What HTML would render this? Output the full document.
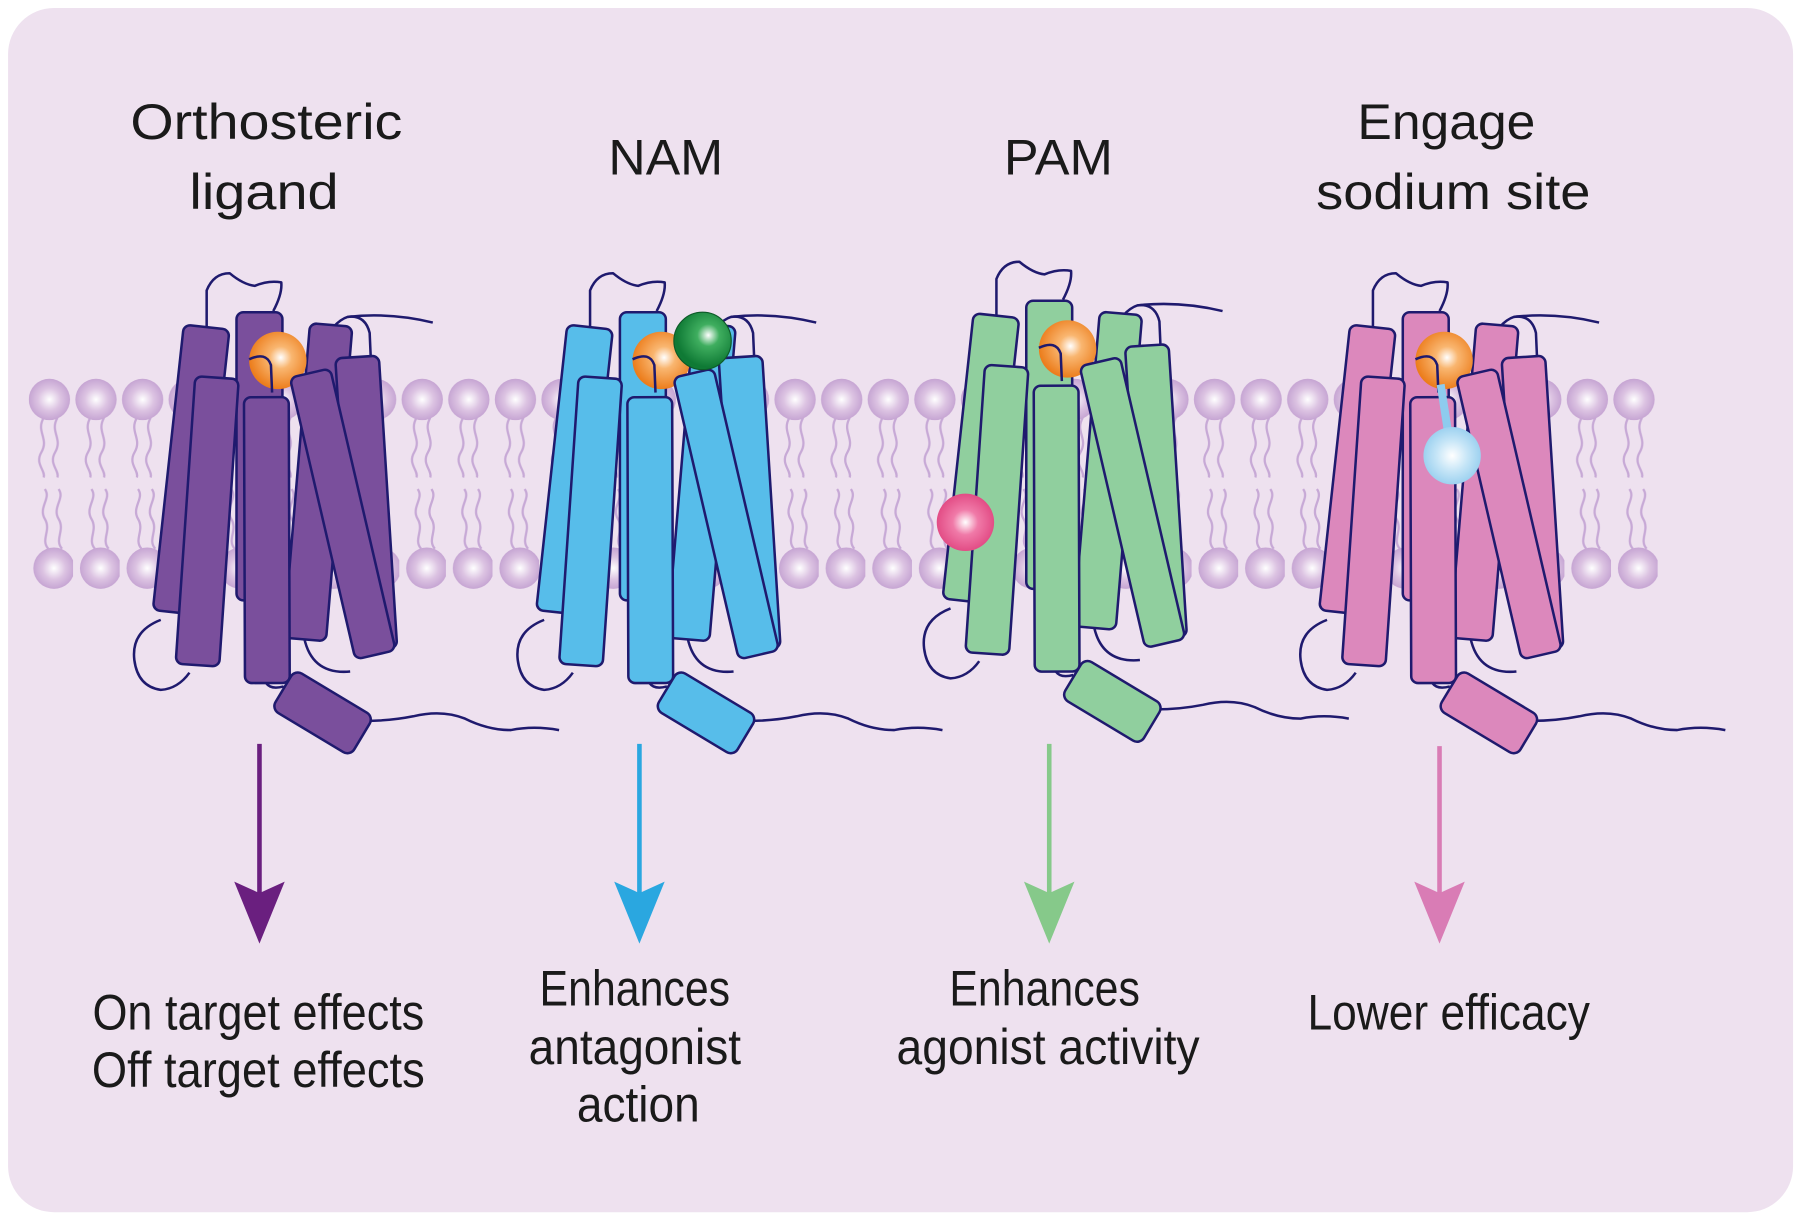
<!DOCTYPE html>
<html><head><meta charset="utf-8"><style>
html,body{margin:0;padding:0;background:#fff;}
svg{display:block;}
text{font-family:"Liberation Sans",sans-serif;fill:#1a1a1a;font-size:44px;}
</style></head><body>
<svg width="1800" height="1220" viewBox="0 0 1568 1062.8" xmlns="http://www.w3.org/2000/svg">
<defs>
<radialGradient id="head" cx="0.5" cy="0.5" r="0.5"><stop offset="0" stop-color="#ffffff"/><stop offset="0.55" stop-color="#dcc3e2"/><stop offset="1" stop-color="#c6a5d3"/></radialGradient>
<radialGradient id="orange" cx="0.55" cy="0.45" r="0.55"><stop offset="0" stop-color="#ffffff"/><stop offset="0.35" stop-color="#f9b670"/><stop offset="1" stop-color="#ec7d1c"/></radialGradient>
<radialGradient id="greenb" cx="0.6" cy="0.4" r="0.55"><stop offset="0" stop-color="#ffffff"/><stop offset="0.35" stop-color="#3fae5f"/><stop offset="1" stop-color="#0f7a35"/></radialGradient>
<radialGradient id="pinkb" cx="0.5" cy="0.5" r="0.55"><stop offset="0" stop-color="#ffffff"/><stop offset="0.4" stop-color="#f07aa8"/><stop offset="1" stop-color="#e0447f"/></radialGradient>
<radialGradient id="blueb" cx="0.5" cy="0.5" r="0.55"><stop offset="0" stop-color="#ffffff"/><stop offset="0.5" stop-color="#c5e5f7"/><stop offset="1" stop-color="#94cdee"/></radialGradient>
<pattern id="lip" patternUnits="userSpaceOnUse" x="23" y="0" width="40.6" height="1062.8">
<g fill="none" stroke="#c7a9d6" stroke-width="2">
<path d="M15,364 C8,376 20,382 13,394 C7,404 17,410 15,416"/>
<path d="M27,364 C20,376 32,382 25,394 C19,404 29,410 27,416"/>
<path d="M16,426 C22,434 10,442 16,452 C22,462 12,470 19,478"/>
<path d="M28,426 C34,434 22,442 28,452 C34,462 24,470 31,478"/>
</g>
<circle cx="20" cy="348" r="18" fill="url(#head)"/>
<circle cx="24" cy="495" r="18" fill="url(#head)"/>
</pattern>
<g id="rec">
<g stroke="#1f1a6e" stroke-width="2.2" fill="none" stroke-linejoin="round">
<path d="M180,287 L180,253 Q186,238 200,238 Q212,248 222,249 Q234,244 245,246 Q246,256 238,271"/>
<path d="M303,276 Q340,272 377,281"/>
<path d="M277,305 Q290,280 303,276 Q318,274 322,290 L323,313"/>
<path d="M140,540 Q114,550 117,575 Q120,598 140,601 Q155,600 165,586"/>
<path d="M265,556 Q272,588 305,585"/>
<path d="M230,590 Q232,602 247,598"/>
<path d="M318,628 Q340,628 360,624 Q385,618 405,626 Q425,636 445,636 Q465,632 487,636"/>
</g>
<g stroke="#1f1a6e" stroke-width="2.2">
<rect x="-20" y="0" width="40" height="251" rx="6" transform="translate(226,272)"/>
<rect x="-18" y="0" width="37" height="275" rx="6" transform="translate(288,283) rotate(4.8)"/>
<rect x="-19" y="0" width="38" height="255" rx="6" transform="translate(311,311) rotate(-3.6)"/>
<rect x="-20" y="0" width="40" height="250" rx="6" transform="translate(180,285) rotate(6.2)"/>
</g>
<circle cx="242" cy="314" r="25" fill="url(#orange)"/>
<path d="M217,313 Q232,306 236,318 L237,342" fill="none" stroke="#1f1a6e" stroke-width="2.2"/>
<g stroke="#1f1a6e" stroke-width="2.2">
<rect x="-19" y="0" width="38" height="251" rx="6" transform="translate(189,329) rotate(3.9)"/>
<rect x="-19.5" y="0" width="39" height="249" rx="6" transform="translate(232,346) rotate(-0.2)"/>
<rect x="-18" y="0" width="36" height="252" rx="6" transform="translate(270,325) rotate(-13.1)"/>
<rect x="-40" y="-20" width="80" height="40" rx="7" transform="translate(281,621) rotate(31)"/>
</g>
</g>
</defs>
<rect x="0" y="0" width="1568" height="1063" fill="#ffffff"/>
<rect x="7" y="7" width="1555" height="1049" rx="40" fill="#eee1ef"/>
<rect x="25" y="325" width="1420" height="195" fill="url(#lip)"/>

<use href="#rec" fill="#7a4f9c"/>
<use href="#rec" fill="#57bdea" transform="translate(334,0)"/>
<circle cx="612" cy="297" r="25" fill="url(#greenb)" stroke="#0d5a28" stroke-width="1"/>
<use href="#rec" fill="#90cf9e" transform="translate(688,-10)"/>
<circle cx="841" cy="455" r="25" fill="url(#pinkb)"/>
<use href="#rec" fill="#dc88bc" transform="translate(1016,0)"/>
<line x1="1255" y1="335" x2="1262" y2="380" stroke="#8ecbee" stroke-width="7"/>
<circle cx="1265" cy="397" r="25" fill="url(#blueb)"/>

<g stroke-width="4">
<line x1="226" y1="648" x2="226" y2="790" stroke="#6a1f7f"/>
<polygon points="204,768 226,778 248,768 226,822" fill="#6a1f7f"/>
<line x1="557" y1="648" x2="557" y2="790" stroke="#2aa7e0"/>
<polygon points="535,768 557,778 579,768 557,822" fill="#2aa7e0"/>
<line x1="914" y1="648" x2="914" y2="790" stroke="#86c98a"/>
<polygon points="892,768 914,778 936,768 914,822" fill="#86c98a"/>
<line x1="1254" y1="650" x2="1254" y2="790" stroke="#d97cb5"/>
<polygon points="1232,768 1254,778 1276,768 1254,822" fill="#d97cb5"/>
</g>

<g text-anchor="middle">
<text x="232" y="121" textLength="237" lengthAdjust="spacingAndGlyphs">Orthosteric</text>
<text x="230" y="182" textLength="130" lengthAdjust="spacingAndGlyphs">ligand</text>
<text x="580" y="152" textLength="100" lengthAdjust="spacingAndGlyphs">NAM</text>
<text x="922" y="152" textLength="95" lengthAdjust="spacingAndGlyphs">PAM</text>
<text x="1260" y="121" textLength="155" lengthAdjust="spacingAndGlyphs">Engage</text>
<text x="1266" y="182" textLength="239" lengthAdjust="spacingAndGlyphs">sodium site</text>
<text x="225" y="897" textLength="289" lengthAdjust="spacingAndGlyphs">On target effects</text>
<text x="225" y="947" textLength="290" lengthAdjust="spacingAndGlyphs">Off target effects</text>
<text x="553" y="876" textLength="166" lengthAdjust="spacingAndGlyphs">Enhances</text>
<text x="553" y="927" textLength="185" lengthAdjust="spacingAndGlyphs">antagonist</text>
<text x="556" y="977" textLength="107" lengthAdjust="spacingAndGlyphs">action</text>
<text x="910" y="876" textLength="166" lengthAdjust="spacingAndGlyphs">Enhances</text>
<text x="913" y="927" textLength="264" lengthAdjust="spacingAndGlyphs">agonist activity</text>
<text x="1262" y="897" textLength="246" lengthAdjust="spacingAndGlyphs">Lower efficacy</text>
</g>
</svg>
</body></html>
